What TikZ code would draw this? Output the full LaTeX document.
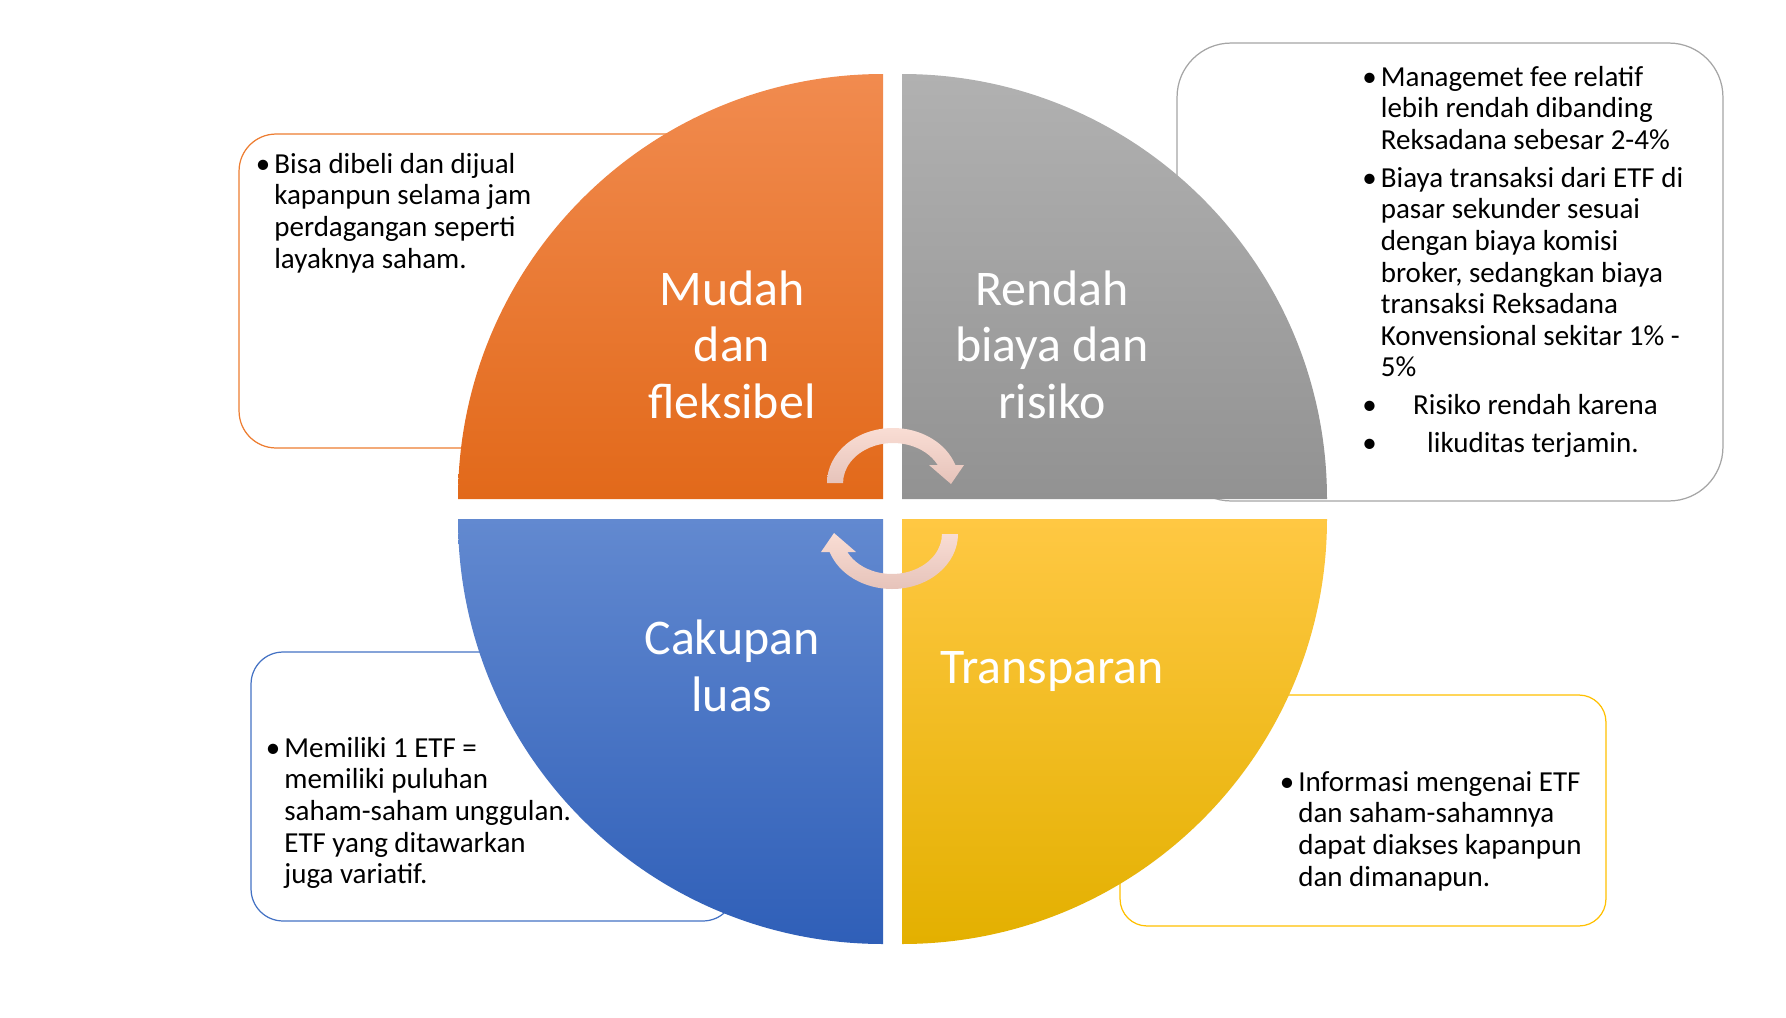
\documentclass[tikz,border=0pt]{standalone}
\usepackage{fontspec}
\setmainfont{Carlito}
\usepackage{tikz}
\usepackage{xcolor}

\definecolor{oranye}{HTML}{ED7D31}
\definecolor{abu}{HTML}{A5A5A5}
\definecolor{biru}{HTML}{4472C4}
\definecolor{emas}{HTML}{FFC000}
\definecolor{panahatas}{HTML}{F9DDD4}
\definecolor{panahbawah}{HTML}{E6C3BA}

\newcommand{\butir}{\llap{\makebox[10.5pt][l]{\textbullet}}}

\begin{document}
\begin{tikzpicture}[x=0.02cm, y=-0.02cm,
    kotak/.style={draw, fill=white, line width=0.7pt},
    isi/.style={anchor=north west, inner sep=0pt, align=left, font=\fontsize{16.5}{18}\selectfont},
    judul/.style={anchor=north, inner sep=0pt, align=center, text=white, font=\fontsize{28.4}{32.1}\selectfont}]
    \useasboundingbox (0,0) rectangle (1786,1018);

    % kotak keterangan
    \node[kotak, draw=oranye, rounded corners=0.74cm, minimum width=10.42cm, minimum height=6.28cm] (kotakA) at (499.5,291) {};
    \node[kotak, draw=abu, rounded corners=1.08cm, minimum width=10.92cm, minimum height=9.16cm] (kotakB) at (1450,272) {};
    \node[kotak, draw=biru, rounded corners=0.64cm, minimum width=9.68cm, minimum height=5.38cm] (kotakC) at (493,786.5) {};
    \node[kotak, draw=emas, rounded corners=0.54cm, minimum width=9.72cm, minimum height=4.62cm] (kotakD) at (1363,810.5) {};

    % empat kuadran
    \shade[top color={rgb,255:red,241;green,139;blue,79}, bottom color={rgb,255:red,226;green,105;blue,26}]
        (883,499) -- (458,499) arc[start angle=180, end angle=270, radius=425] -- cycle;
    \shade[top color={rgb,255:red,177;green,177;blue,177}, bottom color={rgb,255:red,146;green,146;blue,146}]
        (902,499) -- (902,74) arc[start angle=270, end angle=360, radius=425] -- cycle;
    \shade[top color={rgb,255:red,98;green,137;blue,208}, bottom color={rgb,255:red,47;green,95;blue,184}]
        (883,519) -- (458,519) arc[start angle=180, end angle=90, radius=425] -- cycle;
    \shade[top color={rgb,255:red,255;green,200;blue,67}, middle color={rgb,255:red,255;green,196;blue,0}, bottom color={rgb,255:red,227;green,176;blue,0}]
        (902,519) -- (1327,519) arc[start angle=0, end angle=90, radius=425] -- cycle;

    % judul kuadran
    \node[judul] (judulA) at (732,265.4) {\strut Mudah\\dan\\fleksibel};
    \node[judul] (judulB) at (1052,265.4) {\strut Rendah\\biaya dan\\risiko};
    \node[judul] (judulC) at (732,614.9) {\strut Cakupan\\luas};
    \node[judul] (judulD) at (1052,643.4) {\strut Transparan};

    % panah melingkar
    \shade[top color=panahatas, bottom color=panahbawah]
        (827,483) arc[start angle=180, end angle=340.9, x radius=66, y radius=55]
        -- (964,465) -- (951,484) -- (929,465) -- (937.7,465)
        arc[start angle=333.26, end angle=180, x radius=50, y radius=40] -- cycle;
    \shade[top color=panahatas, bottom color=panahbawah]
        (958,534) arc[start angle=0, end angle=160.9, x radius=66, y radius=55]
        -- (821,552) -- (834,533) -- (856,552) -- (847.3,552)
        arc[start angle=153.26, end angle=0, x radius=50, y radius=40] -- cycle;

    % isi keterangan
    \node[isi] (isiA) at (274,150.8) {\butir\strut Bisa dibeli dan dijual\\kapanpun selama jam\\perdagangan seperti\\layaknya saham.};
    \node[isi] (isiB) at (1380.5,63.8) {\butir\strut Managemet fee relatif\\lebih rendah dibanding\\Reksadana sebesar 2-4\%\\[3.4pt]
        \butir Biaya transaksi dari ETF di\\pasar sekunder sesuai\\dengan biaya komisi\\broker, sedangkan biaya\\transaksi Reksadana\\Konvensional sekitar 1\% -\\5\%\\[3.4pt]
        \butir\hspace*{18.4pt}Risiko rendah karena\\[3.4pt]
        \butir\hspace*{26.4pt}likuditas terjamin.};
    \node[isi] (isiC) at (284,734.8) {\butir\strut Memiliki 1 ETF =\\memiliki puluhan\\saham-saham unggulan.\\ETF yang ditawarkan\\juga variatif.};
    \node[isi] (isiD) at (1298,768.8) {\butir\strut Informasi mengenai ETF\\dan saham-sahamnya\\dapat diakses kapanpun\\dan dimanapun.};
\end{tikzpicture}
\end{document}
